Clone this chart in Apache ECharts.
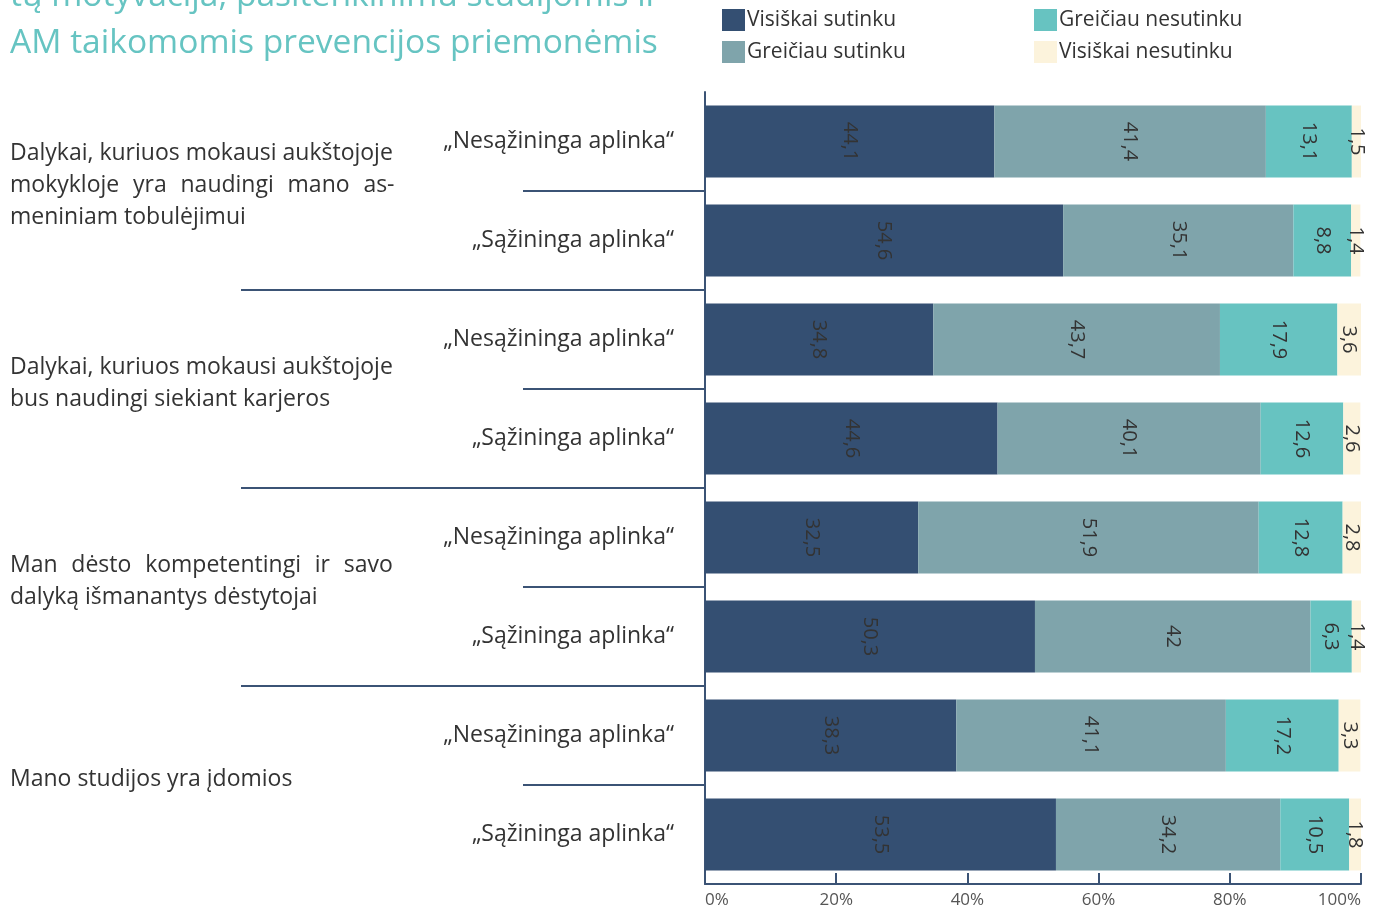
<!DOCTYPE html>
<html><head><meta charset="utf-8">
<script src="https://cdn.jsdelivr.net/npm/echarts@6/dist/echarts.min.js"></script>
<style>html,body{margin:0;padding:0;background:#fff}#c{width:1383px;height:910px}</style>
</head><body><div id="c"></div>
<script>
const categories = ['„Nesąžininga aplinka“','„Sąžininga aplinka“','„Nesąžininga aplinka“','„Sąžininga aplinka“','„Nesąžininga aplinka“','„Sąžininga aplinka“','„Nesąžininga aplinka“','„Sąžininga aplinka“'];
const J = '\u2002\u200A'; // widened word gap for justified lines
const groupLabels = [
  'Dalykai, kuriuos mokausi aukštojoje\nmokykloje' + J + 'yra' + J + 'naudingi' + J + 'mano' + J + 'as-\nmeniniam tobulėjimui',
  'Dalykai, kuriuos mokausi aukštojoje\nbus naudingi siekiant karjeros',
  'Man' + J + 'dėsto' + J + 'kompetentingi' + J + 'ir' + J + 'savo\ndalyką išmanantys dėstytojai',
  'Mano studijos yra įdomios'
];
const seriesNames = ['Visiškai sutinku','Greičiau sutinku','Greičiau nesutinku','Visiškai nesutinku'];
const visiskaiSutinku   = [44.1, 54.6, 34.8, 44.6, 32.5, 50.3, 38.3, 53.5];
const greiciauSutinku   = [41.4, 35.1, 43.7, 40.1, 51.9, 42,   41.1, 34.2];
const greiciauNesutinku = [13.1, 8.8, 17.9, 12.6, 12.8, 6.3, 17.2, 10.5];
const visiskaiNesutinku = [1.5, 1.4, 3.6, 2.6, 2.8, 1.4, 3.3, 1.8];
const xTickStep = 20;
const titleLines = ['tų motyvacija, pasitenkinimu studijomis ir','AM taikomomis prevencijos priemonėmis'];

const colors = ['#344f72','#7fa4ab','#67c3c1','#fcf3dc'];
const axisColor = '#3b5375';
const FONT = 'Open Sans';
const seriesData = [visiskaiSutinku, greiciauSutinku, greiciauNesutinku, visiskaiNesutinku];

const chart = echarts.init(document.getElementById('c'));
const legendBase = { top: 9, orient: 'vertical', itemWidth: 23, itemHeight: 22, itemGap: 10, padding: 0,
  icon: 'rect', textStyle: { fontSize: 21, color: '#333', fontFamily: FONT, padding: [0,0,0,-3] } };
const option = {
  animation: false,
  textStyle: { fontFamily: FONT },
  grid: [
    { left: 705, right: 22, top: 92, bottom: 26, containLabel: false },
    { left: 705, right: 22, top: 86, bottom: 32, containLabel: false }
  ],
  legend: [
    Object.assign({ data: seriesNames.slice(0,2), left: 722 }, legendBase),
    Object.assign({ data: seriesNames.slice(2,4), left: 1034 }, legendBase)
  ],
  xAxis: [{
    type: 'value', min: 0, max: 100, interval: xTickStep, gridIndex: 0,
    axisLine: { show: true, lineStyle: { color: axisColor, width: 2 } },
    axisTick: { show: true, inside: true, length: 11, lineStyle: { color: axisColor, width: 2 } },
    splitLine: { show: false },
    axisLabel: { formatter: '{value}%', fontSize: 17, color: '#555', margin: 8, alignMinLabel: 'left', alignMaxLabel: 'right' }
  }, {
    type: 'value', min: 0, max: 100, gridIndex: 1, show: false
  }],
  yAxis: [
    { type: 'category', data: categories, inverse: true, gridIndex: 0,
      axisLine: { show: true, lineStyle: { color: axisColor, width: 2 } },
      axisTick: { show: false },
      axisLabel: { fontSize: 23, color: '#333', margin: 31 } },
    { type: 'category', data: groupLabels, inverse: true, position: 'left', gridIndex: 1,
      axisLine: { show: false }, axisTick: { show: false },
      axisLabel: { fontSize: 23, color: '#333', align: 'left', margin: 695, lineHeight: 32 } }
  ],
  series: seriesNames.map((name, i) => ({
    name, type: 'bar', stack: 'total', barWidth: 72, xAxisIndex: 0, yAxisIndex: 0,
    itemStyle: { color: colors[i] },
    label: { show: true, position: 'inside', rotate: -90, color: '#333', fontSize: 20,
      formatter: p => String(p.value).replace('.', ',') },
    data: seriesData[i]
  }))
};
chart.setOption(option);

// separators left of the axis at category boundaries
const els = [];
const x0 = chart.convertToPixel({ xAxisIndex: 0 }, 0);
for (let i = 0; i < categories.length - 1; i++) {
  const ya = chart.convertToPixel({ yAxisIndex: 0 }, i);
  const yb = chart.convertToPixel({ yAxisIndex: 0 }, i + 1);
  const y = (ya + yb) / 2;
  const long = (i % 2 === 1);
  els.push({ type: 'line', shape: { x1: long ? 241 : 523, y1: y, x2: x0, y2: y },
    style: { stroke: axisColor, lineWidth: 2 } });
}
els.push({ type: 'text', left: 10, top: -27,
  style: { text: titleLines.join('\n'), fontSize: 33.6, lineHeight: 47, fill: '#66c4c2', fontFamily: FONT } });
chart.setOption({ graphic: els });
</script></body></html>
